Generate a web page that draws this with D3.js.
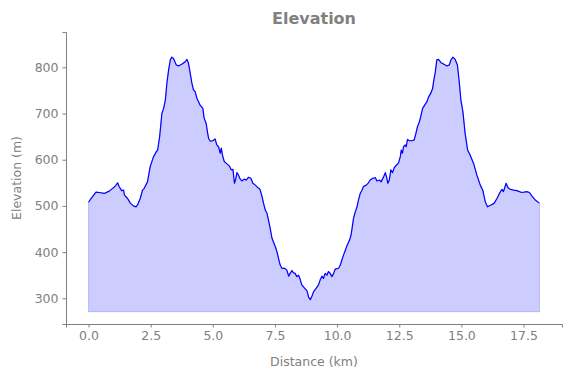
<!DOCTYPE html>
<html>
<head>
<meta charset="utf-8">
<script src="https://cdn.jsdelivr.net/npm/d3@7"></script>
<style>
  body { margin: 0; background: #fff; }
  svg { display: block; font-family: "DejaVu Sans", sans-serif; }
</style>
</head>
<body>
<script>
// distance along the route (km) and elevation (m)
const distanceKm = [
  0.00, 0.10, 0.30, 0.43, 0.63, 0.83, 0.97, 1.06, 1.17, 1.23, 1.33, 1.41, 1.44, 1.57, 1.68, 1.81,
  1.91, 1.97, 2.08, 2.17, 2.24, 2.37, 2.48, 2.61, 2.72, 2.78, 2.86, 2.95, 3.02, 3.09, 3.15, 3.22,
  3.29, 3.35, 3.42, 3.53, 3.62, 3.76, 3.89, 3.96, 4.02, 4.09, 4.16, 4.22, 4.29, 4.36, 4.49, 4.60,
  4.65, 4.73, 4.79, 4.83, 4.90, 5.00, 5.09, 5.16, 5.23, 5.30, 5.34, 5.39, 5.46, 5.57, 5.67, 5.74,
  5.81, 5.87, 5.93, 5.97, 6.03, 6.10, 6.17, 6.26, 6.34, 6.44, 6.53, 6.61, 6.71, 6.80, 6.88, 6.91,
  6.98, 7.04, 7.11, 7.18, 7.24, 7.31, 7.38, 7.44, 7.51, 7.58, 7.64, 7.71, 7.78, 7.88, 7.98, 8.05,
  8.11, 8.18, 8.25, 8.31, 8.38, 8.45, 8.52, 8.58, 8.69, 8.79, 8.85, 8.92, 8.99, 9.05, 9.16, 9.25,
  9.32, 9.39, 9.45, 9.52, 9.59, 9.65, 9.72, 9.79, 9.86, 9.92, 10.06, 10.13, 10.19, 10.26, 10.33, 10.39,
  10.50, 10.56, 10.60, 10.66, 10.73, 10.80, 10.86, 10.93, 11.00, 11.06, 11.17, 11.26, 11.33, 11.44, 11.54, 11.60,
  11.71, 11.77, 11.87, 11.94, 12.00, 12.04, 12.10, 12.16, 12.23, 12.30, 12.38, 12.47, 12.54, 12.58, 12.63, 12.67,
  12.74, 12.78, 12.83, 12.91, 13.01, 13.10, 13.17, 13.23, 13.31, 13.38, 13.44, 13.52, 13.61, 13.68, 13.77, 13.84,
  13.88, 13.95, 14.01, 14.08, 14.18, 14.28, 14.42, 14.51, 14.58, 14.66, 14.75, 14.84, 14.92, 14.98, 15.06, 15.15,
  15.25, 15.35, 15.49, 15.62, 15.76, 15.86, 15.96, 16.05, 16.19, 16.32, 16.43, 16.53, 16.63, 16.69, 16.80, 16.87,
  16.96, 17.10, 17.23, 17.43, 17.63, 17.74, 17.84, 17.97, 18.14
];
const elevationM = [
  508, 516, 530, 529, 527, 532, 538, 542, 550, 542, 533, 534, 524, 516, 506, 500,
  498, 502, 516, 534, 538, 552, 585, 606, 617, 621, 650, 700, 711, 729, 765, 794,
  816, 822, 819, 805, 803, 807, 812, 817, 809, 787, 765, 751, 747, 733, 718, 711,
  690, 679, 658, 646, 640, 641, 645, 632, 628, 614, 625, 610, 596, 591, 586, 578,
  579, 549, 560, 572, 567, 558, 554, 558, 556, 562, 560, 549, 545, 540, 537, 534,
  520, 506, 491, 484, 469, 451, 430, 422, 412, 401, 387, 372, 365, 365, 361, 348,
  354, 360, 355, 354, 347, 350, 340, 329, 322, 316, 303, 297, 305, 314, 322, 329,
  340, 348, 343, 354, 350, 358, 354, 347, 354, 363, 365, 372, 383, 394, 404, 413,
  426, 437, 451, 473, 487, 498, 513, 527, 534, 542, 545, 550, 556, 560, 561, 554,
  556, 552, 563, 572, 560, 549, 556, 578, 572, 583, 588, 593, 606, 621, 614, 628,
  632, 628, 644, 641, 641, 643, 657, 671, 682, 697, 711, 718, 725, 736, 744, 754,
  769, 790, 816, 817, 810, 807, 803, 805, 816, 822, 817, 805, 765, 729, 704, 657,
  621, 610, 592, 567, 545, 534, 509, 498, 502, 506, 516, 527, 536, 531, 549, 540,
  536, 534, 533, 529, 531, 529, 521, 513, 506
];
const fillBase = 271;

const xTicks = [0, 2.5, 5, 7.5, 10, 12.5, 15, 17.5];
const yTicks = [300, 400, 500, 600, 700, 800];

const width = 571;
const height = 378;
const margin = { top: 32, right: 9, bottom: 54, left: 66 };
const grey = "#808080";

const data = distanceKm.map((d, i) => ({ d, e: elevationM[i] }));

const svg = d3.select("body").append("svg")
  .attr("width", width)
  .attr("height", height);

// 5% padding like matplotlib autoscale
const xMax = d3.max(distanceKm);
const xPad = xMax * 0.05;
const x = d3.scaleLinear()
  .domain([-xPad, xMax + xPad])
  .range([margin.left, width - margin.right]);

const y = d3.scaleLinear()
  .domain([244.4, 876.4])
  .range([height - margin.bottom, margin.top]);

const area = d3.area()
  .x(p => x(p.d))
  .y0(y(fillBase))
  .y1(p => y(p.e));

const line = d3.line()
  .x(p => x(p.d))
  .y(p => y(p.e));

svg.append("path")
  .datum(data)
  .attr("d", area)
  .attr("fill", "rgba(0,0,255,0.2)")
  .attr("stroke", "rgba(0,0,255,0.2)")
  .attr("stroke-width", 1);

svg.append("path")
  .datum(data)
  .attr("d", line)
  .attr("fill", "none")
  .attr("stroke", "#0000ff")
  .attr("stroke-width", 1.2)
  .attr("stroke-linejoin", "round");

// axes
const xAxis = svg.append("g")
  .attr("transform", `translate(0,${height - margin.bottom})`)
  .call(d3.axisBottom(x).tickValues(xTicks).tickFormat(d3.format(".1f")).tickSizeOuter(0).tickSize(3.5).tickPadding(4));

const yAxis = svg.append("g")
  .attr("transform", `translate(${margin.left},0)`)
  .call(d3.axisLeft(y).tickValues(yTicks).tickSizeOuter(0).tickSize(3.5).tickPadding(4));

[xAxis, yAxis].forEach(g => {
  g.select(".domain").attr("stroke", grey).attr("stroke-width", 1);
  g.selectAll(".tick line").attr("stroke", grey);
  g.selectAll(".tick text")
    .attr("fill", grey)
    .style("font-size", "12.5px")
    .style("font-family", "DejaVu Sans, sans-serif");
});

svg.append("text")
  .attr("x", (margin.left + width - margin.right) / 2)
  .attr("y", 366)
  .attr("text-anchor", "middle")
  .attr("fill", grey)
  .style("font-size", "12.5px")
  .text("Distance (km)");

svg.append("text")
  .attr("transform", `translate(21,${(margin.top + height - margin.bottom) / 2}) rotate(-90)`)
  .attr("text-anchor", "middle")
  .attr("fill", grey)
  .style("font-size", "12.5px")
  .text("Elevation (m)");

svg.append("text")
  .attr("x", (margin.left + width - margin.right) / 2)
  .attr("y", 24)
  .attr("text-anchor", "middle")
  .attr("fill", grey)
  .style("font-size", "16px")
  .style("font-weight", "bold")
  .text("Elevation");
</script>
</body>
</html>
